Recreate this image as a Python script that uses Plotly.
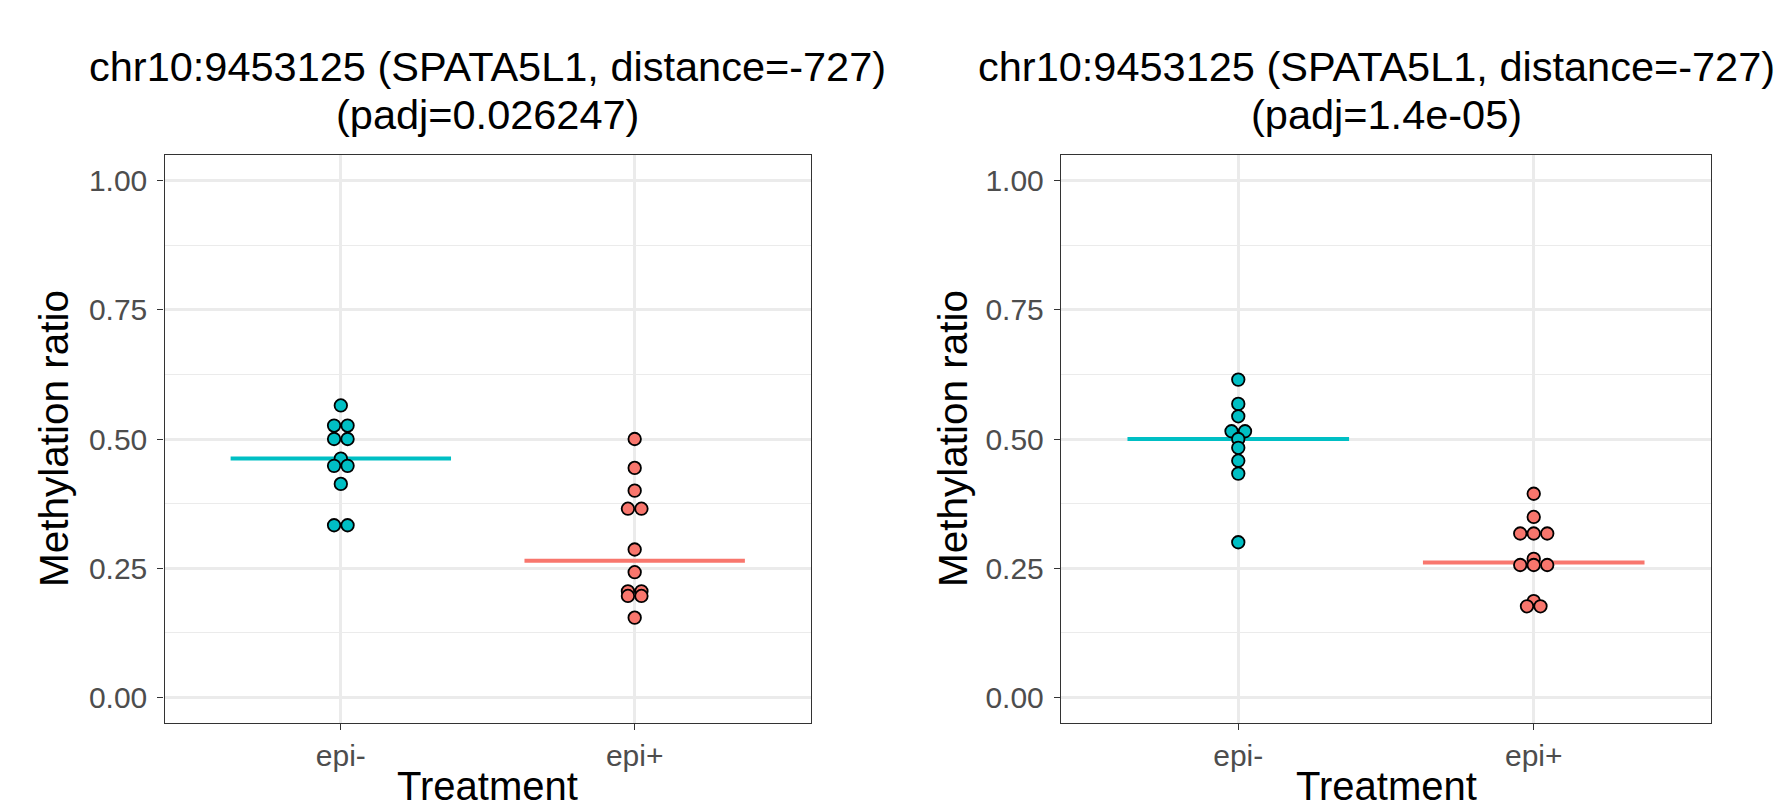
import numpy as np
import plotly.graph_objects as go

W, H = 1779, 810

categories = ["epi-", "epi+"]
colors = {"epi-": "#00BFC4", "epi+": "#F8766D"}

titles_line1 = ["chr10:9453125 (SPATA5L1, distance=-727)",
                "chr10:9453125 (SPATA5L1, distance=-727)"]
titles_line2 = ["(padj=0.026247)", "(padj=1.4e-05)"]

# panel 1 values
p1_epi_minus = [0.565, 0.526, 0.526, 0.500, 0.500, 0.462, 0.448, 0.448, 0.413, 0.333, 0.333]
p1_epi_plus = [0.500, 0.444, 0.400, 0.365, 0.365, 0.286, 0.242, 0.205, 0.205, 0.196, 0.196, 0.154]
p1_medians = [0.462, 0.264]

# panel 2 values
p2_epi_minus = [0.615, 0.568, 0.544, 0.515, 0.515, 0.500, 0.483, 0.458, 0.433, 0.300]
p2_epi_plus = [0.394, 0.349, 0.317, 0.317, 0.317, 0.268, 0.256, 0.256, 0.256, 0.186, 0.176, 0.176]
p2_medians = [0.500, 0.261]

y_ticks = [0.0, 0.25, 0.5, 0.75, 1.0]

panels = [
    {"data": [p1_epi_minus, p1_epi_plus], "med": p1_medians},
    {"data": [p2_epi_minus, p2_epi_plus], "med": p2_medians},
]

# layout geometry (pixels)
x_px = [(164.5, 811.0), (1061.0, 1711.0)]
y_top, y_bot = 155.0, 723.0
xr = [0.4, 2.6]
marker_d = 13.5  # px spacing between side-by-side dots
font = "Liberation Sans, Arial, sans-serif"

fig = go.Figure()

for pi, panel in enumerate(panels):
    xa = "x" if pi == 0 else "x2"
    ya = "y" if pi == 0 else "y2"
    px_per_unit = (x_px[pi][1] - x_px[pi][0]) / (xr[1] - xr[0])
    dx = marker_d / px_per_unit
    # median lines (under points)
    for ci, cat in enumerate(categories):
        c = ci + 1
        fig.add_trace(go.Scatter(
            x=[c - 0.375, c + 0.375], y=[panel["med"][ci]] * 2, mode="lines",
            line=dict(color=colors[cat], width=4), xaxis=xa, yaxis=ya,
            showlegend=False, hoverinfo="skip"))
    for ci, cat in enumerate(categories):
        c = ci + 1
        vals = np.array(panel["data"][ci])
        xs = np.zeros(len(vals))
        uniq = np.unique(vals)
        for u in uniq:
            idx = np.where(vals == u)[0]
            n = len(idx)
            for k, i in enumerate(idx):
                xs[i] = c + (k - (n - 1) / 2) * dx
        fig.add_trace(go.Scatter(
            x=xs, y=vals, mode="markers",
            marker=dict(size=12.5, color=colors[cat], line=dict(color="black", width=1.8)),
            xaxis=xa, yaxis=ya, showlegend=False))

def xaxis_cfg(pi):
    return dict(
        domain=[x_px[pi][0] / W, x_px[pi][1] / W], range=xr,
        tickvals=[1, 2], ticktext=categories,
        showgrid=True, gridcolor="#EBEBEB", gridwidth=2.6,
        showline=True, mirror=True, linecolor="#333333", linewidth=1.4,
        ticks="outside", ticklen=6, tickwidth=1.4, tickcolor="#333333",
        tickfont=dict(family=font, size=30, color="#4D4D4D"),
        zeroline=False, anchor="y" if pi == 0 else "y2", fixedrange=True)

def yaxis_cfg(pi):
    return dict(
        domain=[1 - y_bot / H, 1 - y_top / H], range=[-0.05, 1.05],
        tickvals=y_ticks, ticktext=["%.2f" % t for t in y_ticks],
        showgrid=True, gridcolor="#EBEBEB", gridwidth=2.6,
        minor=dict(showgrid=True, gridcolor="#EBEBEB", gridwidth=1.3,
                   tickvals=[0.125, 0.375, 0.625, 0.875]),
        showline=True, mirror=True, linecolor="#333333", linewidth=1.4,
        ticks="outside", ticklen=6, tickwidth=1.4, tickcolor="#333333",
        tickfont=dict(family=font, size=30, color="#4D4D4D"),
        ticklabelstandoff=4,
        zeroline=False, anchor="x" if pi == 0 else "x2", fixedrange=True)

annotations = []
for pi in range(2):
    cx = (x_px[pi][0] + x_px[pi][1]) / 2 / W
    cy = 1 - (y_top + y_bot) / 2 / H
    if pi == 0:
        t1 = dict(x=cx, xanchor="center")
    else:
        # keep the long title inside the page (right-aligned at the edge)
        t1 = dict(x=1 - 2 / W, xanchor="right")
    annotations.append(dict(text=titles_line1[pi], y=1 - 66 / H, xref="paper", yref="paper",
                            yanchor="middle", showarrow=False,
                            font=dict(family=font, size=41.5, color="black"), **t1))
    annotations.append(dict(text=titles_line2[pi], x=cx, y=1 - 115 / H, xref="paper", yref="paper",
                            xanchor="center", yanchor="middle", showarrow=False,
                            font=dict(family=font, size=41.5, color="black")))
    annotations.append(dict(text="Treatment", x=cx, y=0, xref="paper", yref="paper",
                            xanchor="center", yanchor="bottom", showarrow=False,
                            font=dict(family=font, size=40, color="black")))
    ylab_x = [54, 953][pi]
    annotations.append(dict(text="Methylation ratio", x=ylab_x / W, y=cy, xref="paper", yref="paper",
                            xanchor="center", yanchor="middle", textangle=-90, showarrow=False,
                            font=dict(family=font, size=40.5, color="black")))

fig.update_layout(
    width=W, height=H, margin=dict(l=0, r=0, t=0, b=0),
    paper_bgcolor="white", plot_bgcolor="white",
    xaxis=xaxis_cfg(0), yaxis=yaxis_cfg(0),
    xaxis2=xaxis_cfg(1), yaxis2=yaxis_cfg(1),
    annotations=annotations, showlegend=False,
)

fig.write_html("out.html")
